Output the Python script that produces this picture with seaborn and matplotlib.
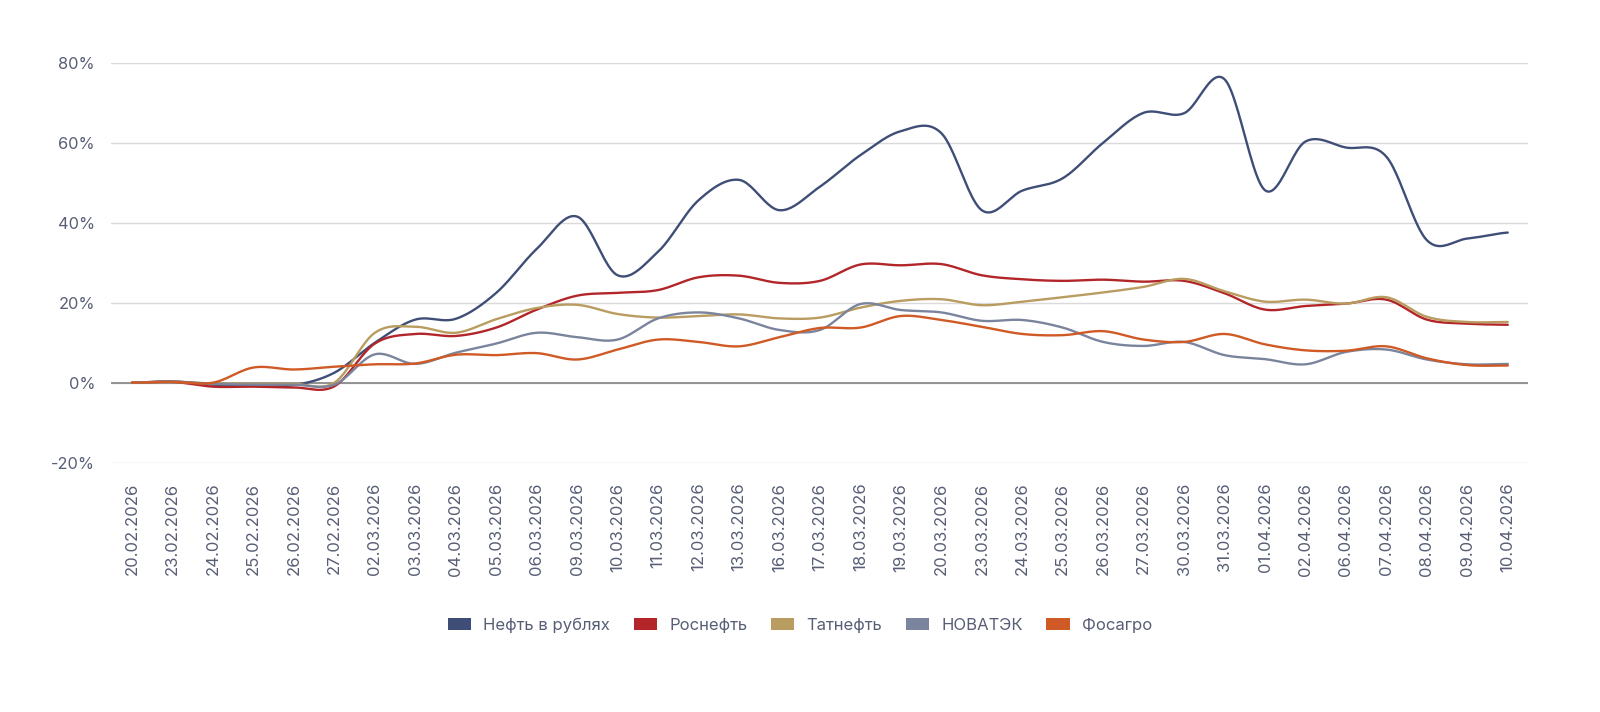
import numpy as np
import pandas as pd
import matplotlib
matplotlib.use("Agg")
import matplotlib.pyplot as plt
from matplotlib.patches import Patch
import seaborn as sns

# Даты (категории оси X)
dates = ['20.02.2026', '23.02.2026', '24.02.2026', '25.02.2026', '26.02.2026', '27.02.2026',
         '02.03.2026', '03.03.2026', '04.03.2026', '05.03.2026', '06.03.2026', '09.03.2026',
         '10.03.2026', '11.03.2026', '12.03.2026', '13.03.2026', '16.03.2026', '17.03.2026',
         '18.03.2026', '19.03.2026', '20.03.2026', '23.03.2026', '24.03.2026', '25.03.2026',
         '26.03.2026', '27.03.2026', '30.03.2026', '31.03.2026', '01.04.2026', '02.04.2026',
         '06.04.2026', '07.04.2026', '08.04.2026', '09.04.2026', '10.04.2026']

# Изменение с 20.02.2026, %
neft_rub = [0, 0.3, -0.5, -0.6, -0.6, 2.5, 10.0, 15.8, 16.0, 22.5, 33.5, 41.6, 26.9, 32.8, 45.7,
            50.8, 43.2, 49.1, 57.0, 63.0, 62.5, 43.2, 48.1, 51.2, 60.1, 67.6, 67.5, 76.0, 48.2,
            60.4, 58.9, 56.6, 35.7, 36.1, 37.6]
rosneft = [0, 0.2, -1.0, -1.0, -1.2, -0.9, 9.8, 12.2, 11.7, 13.8, 18.3, 21.8, 22.5, 23.2, 26.4,
           26.8, 25.0, 25.5, 29.6, 29.4, 29.7, 26.9, 25.9, 25.5, 25.8, 25.3, 25.5, 22.4, 18.3,
           19.2, 19.8, 20.8, 15.8, 14.8, 14.5]
tatneft = [0, 0.2, -0.2, -0.3, -0.3, 0.0, 12.5, 14.0, 12.5, 15.9, 18.7, 19.5, 17.2, 16.3, 16.7,
           17.1, 16.1, 16.3, 18.8, 20.5, 20.9, 19.4, 20.3, 21.4, 22.6, 24.0, 26.0, 22.9, 20.3,
           20.8, 19.8, 21.4, 16.5, 15.2, 15.2]
novatek = [0, 0.3, -0.3, -0.5, -0.5, -0.5, 7.1, 4.7, 7.5, 9.8, 12.5, 11.4, 10.8, 16.1, 17.6,
           16.1, 13.2, 13.2, 19.7, 18.2, 17.6, 15.5, 15.7, 13.8, 10.2, 9.2, 10.2, 6.9, 5.9,
           4.6, 7.7, 8.3, 5.8, 4.6, 4.7]
fosagro = [0, 0.2, 0.0, 3.8, 3.3, 4.0, 4.6, 4.8, 7.0, 6.9, 7.4, 5.8, 8.3, 10.8, 10.2,
           9.1, 11.4, 13.7, 13.8, 16.7, 15.7, 14.0, 12.2, 11.9, 12.9, 10.8, 10.2, 12.2, 9.6,
           8.1, 8.0, 9.1, 6.1, 4.4, 4.3]

series = {
    'Нефть в рублях': neft_rub,
    'Роснефть': rosneft,
    'Татнефть': tatneft,
    'НОВАТЭК': novatek,
    'Фосагро': fosagro,
}
colors = {
    'Нефть в рублях': '#3e4e76',
    'Роснефть': '#b2262a',
    'Татнефть': '#b99c5f',
    'НОВАТЭК': '#7a849d',
    'Фосагро': '#cf5a25',
}


def smooth(values, n=24):
    # сглаживание линии сплайном Катмулла-Рома (только для отрисовки)
    y = np.asarray(values, dtype=float)
    p = np.concatenate([[y[0]], y, [y[-1]]])
    t = np.linspace(0, 1, n, endpoint=False)
    h00 = 2 * t**3 - 3 * t**2 + 1
    h10 = t**3 - 2 * t**2 + t
    h01 = -2 * t**3 + 3 * t**2
    h11 = t**3 - t**2
    xs, ys = [], []
    for i in range(len(y) - 1):
        p0, p1, p2, p3 = p[i], p[i + 1], p[i + 2], p[i + 3]
        m1 = (p2 - p0) / 2
        m2 = (p3 - p1) / 2
        xs.append(i + t)
        ys.append(h00 * p1 + h10 * m1 + h01 * p2 + h11 * m2)
    xs.append([len(y) - 1])
    ys.append([y[-1]])
    return np.concatenate(xs), np.concatenate(ys)


rows = []
for name, vals in series.items():
    xs, ys = smooth(vals)
    rows.append(pd.DataFrame({'x': xs, 'y': ys, 'series': name}))
df = pd.concat(rows, ignore_index=True)

sns.set_style('white')
plt.rcParams['font.family'] = ['Inter', 'DejaVu Sans']

text_color = '#575e75'

fig = plt.figure(figsize=(16, 7.12), dpi=100)
ax = fig.add_axes([0.0694, 0.3504, 0.8856, 0.5607])

ax.axhline(0, color='#8c8c8c', lw=1.3, zorder=1)
sns.lineplot(data=df, x='x', y='y', hue='series', palette=colors, sort=False,
             estimator=None, linewidth=1.7, legend=False, ax=ax, zorder=3)

ax.set_ylim(-20, 80)
ax.set_yticks([-20, 0, 20, 40, 60, 80])
ax.set_yticklabels([f'{v}%' for v in [-20, 0, 20, 40, 60, 80]])
ax.set_xlim(-0.52, len(dates) - 1 + 0.5)
ax.set_xticks(range(len(dates)))
ax.set_xticklabels(dates, rotation=90, ha='center', va='top')

ax.grid(axis='y', color='#dadada', lw=1.0, zorder=0)
ax.grid(axis='x', visible=False)
for s in ax.spines.values():
    s.set_visible(False)
ax.tick_params(axis='both', length=0, colors=text_color)
ax.tick_params(axis='y', pad=11.5, labelsize=11.8)
ax.tick_params(axis='x', pad=14.5, labelsize=12)
ax.set_xlabel('')
ax.set_ylabel('')

handles = [Patch(facecolor=colors[n], edgecolor='none', label=n) for n in series]
fig.legend(handles=handles, loc='center', bbox_to_anchor=(0.5, 0.122), ncol=5,
           frameon=False, fontsize=12, handlelength=1.4, handleheight=0.8,
           handletextpad=0.75, columnspacing=1.4, labelcolor=text_color)

fig.savefig('out.png', dpi=100, facecolor='white')
